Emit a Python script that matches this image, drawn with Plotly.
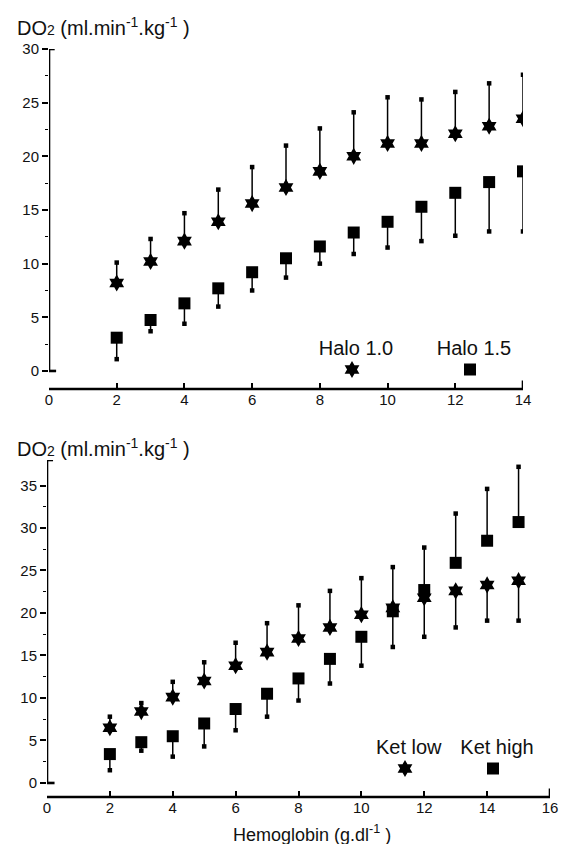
import plotly.graph_objects as go

# ---------------- data ----------------
HB_TOP = [2, 3, 4, 5, 6, 7, 8, 9, 10, 11, 12, 13, 14]
HALO10 = [8.2, 10.2, 12.1, 13.9, 15.6, 17.1, 18.6, 20.0, 21.2, 21.2, 22.1, 22.8, 23.5]
HALO10_END = [10.1, 12.3, 14.7, 16.9, 19.0, 21.0, 22.6, 24.1, 25.5, 25.3, 26.0, 26.8, 27.6]
HALO15 = [3.1, 4.75, 6.3, 7.7, 9.2, 10.5, 11.6, 12.9, 13.9, 15.3, 16.6, 17.6, 18.6]
HALO15_END = [1.1, 3.7, 4.4, 6.0, 7.5, 8.7, 10.0, 10.9, 11.5, 12.1, 12.6, 13.0, 13.0]

HB_BOT = [2, 3, 4, 5, 6, 7, 8, 9, 10, 11, 12, 13, 14, 15]
KETLOW = [6.5, 8.4, 10.1, 12.0, 13.8, 15.4, 17.0, 18.3, 19.8, 20.6, 21.8, 22.6, 23.3, 23.8]
KETLOW_END = [7.8, 9.4, 11.9, 14.2, 16.5, 18.8, 20.9, 22.6, 24.1, 25.4, 17.2, 18.3, 19.1, 19.1]
KETHIGH = [3.4, 4.8, 5.5, 7.0, 8.7, 10.5, 12.3, 14.6, 17.2, 20.2, 22.7, 25.9, 28.5, 30.7]
KETHIGH_END = [1.5, 3.8, 3.1, 4.3, 6.2, 7.8, 9.7, 11.7, 13.8, 16.0, 27.7, 31.7, 34.6, 37.2]

TOP_XTICKS = [0, 2, 4, 6, 8, 10, 12, 14]
TOP_YTICKS = [0, 5, 10, 15, 20, 25, 30]
BOT_XTICKS = [0, 2, 4, 6, 8, 10, 12, 14, 16]
BOT_YTICKS = [0, 5, 10, 15, 20, 25, 30, 35]

SERIES_TOP = ["Halo 1.0", "Halo 1.5"]
SERIES_BOT = ["Ket low", "Ket high"]

# ---------------- style ----------------
FONT = "Liberation Sans, Arial, sans-serif"
INK = "#111111"
W, H = 569, 844
PAGE_OFFSET = 8  # default page margin around the plot div

fig = go.Figure()


def add_series(x, vals, ends, symbol, size, xa, ya, name):
    up = [max(e - v, 0) for v, e in zip(vals, ends)]
    dn = [max(v - e, 0) for v, e in zip(vals, ends)]
    fig.add_trace(go.Scatter(
        x=x, y=ends, mode="markers", xaxis=xa, yaxis=ya, showlegend=False,
        marker=dict(symbol="square", size=4.5, color="black"), hoverinfo="skip",
        name=name + " SD"))
    fig.add_trace(go.Scatter(
        x=x, y=vals, mode="markers", xaxis=xa, yaxis=ya, showlegend=False, name=name,
        marker=dict(symbol=symbol, size=size, color="black", line=dict(width=0)),
        error_y=dict(type="data", symmetric=False, array=up, arrayminus=dn,
                     width=0, thickness=1.5, color="black")))


def add_key(symbol, size, xa, ya, legend):
    fig.add_trace(go.Scatter(
        x=[None], y=[None], mode="markers", xaxis=xa, yaxis=ya, name=" ",
        legend=legend, showlegend=True,
        marker=dict(symbol=symbol, size=size, color="black", line=dict(width=0))))


STAR, STAR_SIZE = "hexagram", 13
SQ, SQ_SIZE = "square", 12

add_series(HB_TOP, HALO10, HALO10_END, STAR, STAR_SIZE, "x", "y", SERIES_TOP[0])
add_series(HB_TOP, HALO15, HALO15_END, SQ, SQ_SIZE, "x", "y", SERIES_TOP[1])
add_series(HB_BOT, KETLOW, KETLOW_END, STAR, STAR_SIZE, "x2", "y2", SERIES_BOT[0])
add_series(HB_BOT, KETHIGH, KETHIGH_END, SQ, SQ_SIZE, "x2", "y2", SERIES_BOT[1])

add_key(STAR, STAR_SIZE, "x", "y", "legend")
add_key(SQ, SQ_SIZE, "x", "y", "legend2")
add_key(STAR, STAR_SIZE, "x2", "y2", "legend3")
add_key(SQ, SQ_SIZE, "x2", "y2", "legend4")


def px_x(p):
    return (p - PAGE_OFFSET) / W


def px_y(p):
    return 1 - (p - PAGE_OFFSET) / H


tickfont = dict(family=FONT, size=15, color=INK)


def xax(domain, rng, ticks, anchor):
    return dict(domain=domain, range=rng, anchor=anchor, tickmode="array", tickvals=ticks,
                ticks="inside", ticklen=6, tickwidth=1.5, tickcolor="black",
                showline=False, showgrid=False, zeroline=False, tickfont=tickfont,
                automargin=False, fixedrange=True)


def yax(domain, rng, ticks, anchor):
    minor = [t + 2.5 for t in ticks[:-1]]
    return dict(domain=domain, range=rng, anchor=anchor, tickmode="array", tickvals=ticks,
                ticks="outside", ticklen=6, tickwidth=1.5, tickcolor="black",
                minor=dict(tickvals=minor, ticks="outside", ticklen=3, tickwidth=1.2,
                           tickcolor="black"),
                showline=False, showgrid=False, zeroline=False, tickfont=tickfont,
                automargin=False, fixedrange=True)


TOP_YMIN, TOP_YMAX, TOP_XMAX = -1.68, 30, 14
BOT_YMIN, BOT_YMAX, BOT_XMAX = -1.65, 38, 16

fig.update_layout(
    template="none",
    width=W, height=H, margin=dict(l=0, r=0, t=0, b=0, pad=0, autoexpand=False),
    paper_bgcolor="white", plot_bgcolor="white",
    font=dict(family=FONT, color=INK),
    xaxis=xax([px_x(49), px_x(523)], [0, TOP_XMAX], TOP_XTICKS, "y"),
    yaxis=yax([px_y(389), px_y(49)], [TOP_YMIN, TOP_YMAX], TOP_YTICKS, "x"),
    xaxis2=xax([px_x(47), px_x(550)], [0, BOT_XMAX], BOT_XTICKS, "y2"),
    yaxis2=yax([px_y(797), px_y(460)], [BOT_YMIN, BOT_YMAX], BOT_YTICKS, "x2"),
)

# legends: title above the symbol (symbol centred via itemwidth)
def leg(cx, top, title, iw):
    return dict(x=px_x(cx), y=px_y(top), xanchor="center", yanchor="top",
                bgcolor="rgba(0,0,0,0)", borderwidth=0, itemwidth=iw,
                title=dict(text=title, side="top center",
                           font=dict(family=FONT, size=20, color=INK)),
                font=dict(family=FONT, size=10, color=INK), itemclick=False,
                itemdoubleclick=False)

fig.update_layout(
    legend=leg(356, 329, SERIES_TOP[0], 70),
    legend2=leg(474, 329, SERIES_TOP[1], 70),
    legend3=leg(409, 728, SERIES_BOT[0], 66),
    legend4=leg(497, 728, SERIES_BOT[1], 76),
)

# axis lines (offset, Origin-style)
LW = 2.6
shapes = []
for xa, ya, xmax, ymax in [("x", "y", TOP_XMAX, TOP_YMAX), ("x2", "y2", BOT_XMAX, BOT_YMAX)]:
    shapes.append(dict(type="line", xref=xa, yref=ya, x0=0, x1=0, y0=0, y1=ymax,
                       line=dict(color="black", width=LW)))
    shapes.append(dict(type="line", xref=xa, yref=ya, x0=0, x1=xmax * 0.012, y0=ymax, y1=ymax,
                       line=dict(color="black", width=LW)))
    shapes.append(dict(type="line", xref=xa, yref=ya, x0=0, x1=xmax * 0.015, y0=0, y1=0,
                       line=dict(color="black", width=LW)))
    shapes.append(dict(type="line", xref=xa, yref=ya + " domain", x0=0, x1=xmax, y0=0, y1=0,
                       line=dict(color="black", width=LW)))
    shapes.append(dict(type="line", xref=xa, yref=ya + " domain", x0=xmax, x1=xmax, y0=0, y1=0.025,
                       line=dict(color="black", width=LW)))
fig.update_layout(shapes=shapes)

ytitle = "DO<span style='font-size:14px'>2</span> (ml.min<sup>-1</sup>.kg<sup>-1</sup> )"
ann = [
    dict(text=ytitle, xref="paper", yref="paper", x=px_x(15), y=px_y(27),
         xanchor="left", yanchor="middle", showarrow=False,
         font=dict(family=FONT, size=20, color=INK)),
    dict(text=ytitle, xref="paper", yref="paper", x=px_x(15), y=px_y(447),
         xanchor="left", yanchor="middle", showarrow=False,
         font=dict(family=FONT, size=20, color=INK)),
    dict(text="Hemoglobin (g.dl<sup>-1</sup> )", xref="paper", yref="paper",
         x=px_x(312), y=px_y(833), xanchor="center", yanchor="middle", showarrow=False,
         font=dict(family=FONT, size=18, color=INK)),
]
fig.update_layout(annotations=ann)

fig.write_html("out.html")
